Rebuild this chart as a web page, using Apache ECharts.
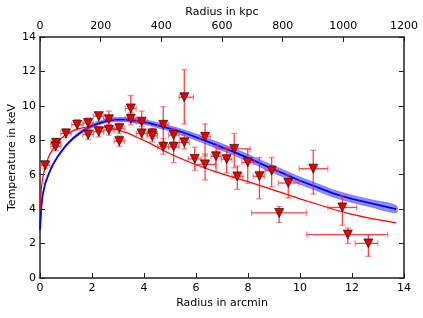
<!DOCTYPE html>
<html>
<head>
<meta charset="utf-8">
<script src="https://cdn.jsdelivr.net/npm/echarts@6/dist/echarts.min.js"></script>
<style>
html,body{margin:0;padding:0;background:#fff;}
#c{width:423px;height:318px;}
</style>
</head>
<body>
<div id="c"></div>
<script>
// Measured temperature profile points (arcmin, keV) with error ranges
const radius = [0.2, 0.62, 0.6, 1.0, 1.43, 1.85, 1.85, 2.26, 2.26, 2.65, 2.65, 3.05, 3.05, 3.49, 3.49, 3.91, 3.91, 4.32, 4.32, 4.74, 4.74, 5.14, 5.14, 5.55, 5.55, 5.95, 6.35, 6.35, 6.77, 7.18, 7.47, 7.59, 7.99, 8.44, 8.91, 9.2, 9.55, 10.51, 11.63, 11.84, 12.63];
const temp   = [6.55, 7.85, 7.65, 8.4, 8.9, 9.0, 8.33, 9.4, 8.5, 9.22, 8.6, 8.7, 7.95, 9.85, 9.25, 9.08, 8.4, 8.4, 8.25, 8.9, 7.62, 8.3, 7.62, 10.5, 7.88, 6.92, 8.2, 6.6, 7.07, 6.9, 7.5, 5.9, 6.72, 5.91, 6.24, 3.78, 5.52, 6.35, 4.1, 2.52, 2.01];
const radiusLo = [0.04, 0.42, 0.42, 0.8, 1.22, 1.65, 1.65, 2.05, 2.05, 2.45, 2.45, 2.85, 2.85, 3.28, 3.28, 3.7, 3.7, 4.12, 4.12, 4.52, 4.52, 4.95, 4.95, 5.35, 5.35, 5.7, 6.15, 5.95, 6.58, 6.98, 6.8, 7.38, 7.76, 8.2, 8.65, 8.14, 9.17, 9.97, 11.07, 10.26, 12.12];
const radiusHi = [0.38, 0.8, 0.8, 1.2, 1.65, 2.05, 2.05, 2.45, 2.45, 2.85, 2.85, 3.25, 3.25, 3.7, 3.7, 4.12, 4.12, 4.52, 4.52, 4.95, 4.95, 5.35, 5.35, 5.9, 5.75, 6.2, 6.55, 6.75, 6.96, 7.38, 8.08, 7.8, 8.24, 8.63, 9.17, 10.25, 9.96, 11.07, 12.18, 13.37, 12.99];
const tempLo = [6.35, 7.6, 7.4, 8.15, 8.6, 8.7, 8.05, 9.1, 8.2, 8.9, 8.3, 8.4, 7.65, 9.5, 8.9, 8.6, 8.1, 8.1, 7.9, 7.9, 7.2, 7.9, 6.7, 8.95, 7.5, 6.25, 7.1, 5.7, 6.15, 6.1, 6.4, 5.15, 5.5, 4.6, 5.3, 3.23, 4.65, 4.88, 3.06, 2.0, 1.26];
const tempHi = [6.75, 8.1, 7.9, 8.65, 9.2, 9.3, 8.6, 9.6, 8.8, 9.7, 8.9, 9.0, 8.25, 10.6, 9.6, 9.7, 8.8, 8.7, 8.6, 9.95, 8.1, 8.7, 8.6, 12.1, 8.3, 7.6, 8.95, 7.2, 7.7, 7.6, 8.4, 6.5, 7.5, 7.0, 7.0, 4.16, 6.0, 7.42, 4.78, 2.9, 2.52];

// Blue model curve with its uncertainty band
const blueR   = [0, 0.05, 0.1, 0.2, 0.35, 0.5, 0.7, 1.0, 1.3, 1.6, 2.0, 2.5, 2.9, 3.3, 3.7, 4.2, 4.7, 5.2, 5.7, 6.2, 6.8, 7.4, 8.0, 8.7, 9.4, 10.0, 10.7, 11.3, 12.0, 12.7, 13.7];
const blueT   = [2.8, 4.1, 4.8, 5.5, 6.1, 6.6, 7.1, 7.7, 8.15, 8.5, 8.85, 9.1, 9.2, 9.2, 9.12, 9.0, 8.8, 8.6, 8.35, 8.07, 7.72, 7.36, 6.98, 6.5, 6.05, 5.65, 5.25, 4.9, 4.6, 4.35, 4.0];
const blueLow = [2.77, 4.07, 4.77, 5.46, 6.06, 6.55, 7.05, 7.64, 8.08, 8.42, 8.76, 9.0, 9.09, 9.08, 8.99, 8.86, 8.65, 8.44, 8.18, 7.89, 7.53, 7.16, 6.78, 6.29, 5.84, 5.44, 5.04, 4.69, 4.39, 4.14, 3.79];
const blueHigh= [2.83, 4.13, 4.83, 5.54, 6.14, 6.65, 7.15, 7.76, 8.22, 8.58, 8.94, 9.2, 9.31, 9.32, 9.25, 9.14, 8.95, 8.76, 8.52, 8.25, 7.91, 7.56, 7.18, 6.71, 6.26, 5.86, 5.46, 5.11, 4.81, 4.56, 4.21];

// Red model curve
const redR = [0, 0.05, 0.1, 0.2, 0.35, 0.5, 0.7, 1.0, 1.4, 1.8, 2.2, 2.6, 3.0, 3.4, 3.8, 4.2, 4.6, 5.0, 5.5, 6.0, 6.5, 7.0, 7.5, 8.0, 8.7, 9.4, 10.0, 10.7, 11.3, 12.0, 12.7, 13.7];
const redT = [3.9, 5.2, 5.8, 6.5, 7.1, 7.5, 7.95, 8.35, 8.65, 8.77, 8.8, 8.75, 8.6, 8.4, 8.12, 7.85, 7.52, 7.22, 6.88, 6.58, 6.3, 6.05, 5.82, 5.6, 5.25, 4.9, 4.6, 4.27, 3.98, 3.7, 3.46, 3.2];

// Axis ticks
const arcminTicks = {min: 0, max: 14, step: 2};
const kpcTicks = {min: 0, max: 1200, step: 200};
const keVTicks = {min: 0, max: 14, step: 2};

const FONT = 'DejaVu Sans';
const axisCommon = {
  axisLine: {show: true, onZero: false, lineStyle: {color: '#222', width: 1.5}},
  axisTick: {show: true, inside: true, length: 5, lineStyle: {color: '#222', width: 1}},
  splitLine: {show: false},
  axisLabel: {color: '#000', fontSize: 11, fontFamily: FONT, formatter: v => String(v)},
  nameTextStyle: {color: '#000', fontSize: 11, fontFamily: FONT},
  nameMoveOverlap: false
};

const pts = radius.map((r, i) => [r, temp[i], radiusLo[i], radiusHi[i], tempLo[i], tempHi[i]]);

const chart = echarts.init(document.getElementById('c'), null, {renderer: 'canvas'});
chart.setOption({
  animation: false,
  backgroundColor: '#fff',
  grid: {left: 40, right: 19, top: 37, bottom: 40, containLabel: false, outerBoundsMode: 'none'},
  xAxis: [
    Object.assign({}, axisCommon, {
      type: 'value', position: 'bottom', min: arcminTicks.min, max: arcminTicks.max, interval: arcminTicks.step,
      name: 'Radius in arcmin', nameLocation: 'middle', nameGap: 20,
      axisLabel: Object.assign({}, axisCommon.axisLabel, {margin: 5})
    }),
    Object.assign({}, axisCommon, {
      type: 'value', position: 'top', min: kpcTicks.min, max: kpcTicks.max, interval: kpcTicks.step,
      name: 'Radius in kpc', nameLocation: 'middle', nameGap: 19,
      axisLabel: Object.assign({}, axisCommon.axisLabel, {margin: 5})
    })
  ],
  yAxis: [
    Object.assign({}, axisCommon, {
      type: 'value', position: 'left', min: keVTicks.min, max: keVTicks.max, interval: keVTicks.step,
      name: 'Temperature in keV', nameLocation: 'middle', nameGap: 22, nameRotate: 90,
      axisLabel: Object.assign({}, axisCommon.axisLabel, {margin: 4})
    }),
    Object.assign({}, axisCommon, {
      type: 'value', position: 'right', min: keVTicks.min, max: keVTicks.max, interval: keVTicks.step,
      axisLabel: {show: false}
    })
  ],
  series: [
    {
      type: 'custom', name: 'band', xAxisIndex: 0, yAxisIndex: 0, silent: true, z: 1,
      data: [[blueR[0], blueT[0]]],
      renderItem: function (params, api) {
        const poly = [];
        for (let i = 0; i < blueR.length; i++) poly.push(api.coord([blueR[i], blueHigh[i]]));
        for (let i = blueR.length - 1; i >= 0; i--) poly.push(api.coord([blueR[i], blueLow[i]]));
        return {type: 'polygon', shape: {points: poly, smooth: 0.3}, style: {fill: 'rgba(50,50,255,0.55)', stroke: 'rgba(50,50,255,0.55)', lineWidth: 0.8}};
      }
    },
    {
      type: 'line', name: 'blue', xAxisIndex: 0, yAxisIndex: 0, z: 2,
      data: blueR.map((r, i) => [r, blueT[i]]),
      showSymbol: false, smooth: false,
      lineStyle: {color: '#0000ff', width: 1.8}
    },
    {
      type: 'line', name: 'red', xAxisIndex: 0, yAxisIndex: 0, z: 3,
      data: redR.map((r, i) => [r, redT[i]]),
      showSymbol: false, smooth: false,
      lineStyle: {color: '#ff0000', width: 1.2}
    },
    {
      type: 'custom', name: 'errors', xAxisIndex: 0, yAxisIndex: 0, z: 4, silent: true,
      data: pts,
      encode: {x: 0, y: 1},
      renderItem: function (params, api) {
        const r = api.value(0), t = api.value(1);
        const xl = api.coord([api.value(2), t]), xh = api.coord([api.value(3), t]);
        const yl = api.coord([r, api.value(4)]), yh = api.coord([r, api.value(5)]);
        const cap = 3;
        const st = {stroke: 'rgba(255,20,20,0.8)', lineWidth: 1.3};
        const capSt = {stroke: 'rgba(255,60,60,0.6)', lineWidth: 1.3};
        return {type: 'group', children: [
          {type: 'line', shape: {x1: xl[0], y1: xl[1], x2: xh[0], y2: xh[1]}, style: st},
          {type: 'line', shape: {x1: yl[0], y1: yl[1], x2: yh[0], y2: yh[1]}, style: st},
          {type: 'line', shape: {x1: xl[0], y1: xl[1] - cap, x2: xl[0], y2: xl[1] + cap}, style: capSt},
          {type: 'line', shape: {x1: xh[0], y1: xh[1] - cap, x2: xh[0], y2: xh[1] + cap}, style: capSt},
          {type: 'line', shape: {x1: yl[0] - cap, y1: yl[1], x2: yl[0] + cap, y2: yl[1]}, style: capSt},
          {type: 'line', shape: {x1: yh[0] - cap, y1: yh[1], x2: yh[0] + cap, y2: yh[1]}, style: capSt}
        ]};
      }
    },
    {
      type: 'scatter', name: 'points', xAxisIndex: 0, yAxisIndex: 0, z: 5,
      data: radius.map((r, i) => [r, temp[i]]),
      symbol: 'triangle', symbolRotate: 180, symbolSize: 9,
      itemStyle: {color: '#e80000', borderColor: '#111', borderWidth: 0.7, opacity: 1}
    }
  ]
});
</script>
</body>
</html>
